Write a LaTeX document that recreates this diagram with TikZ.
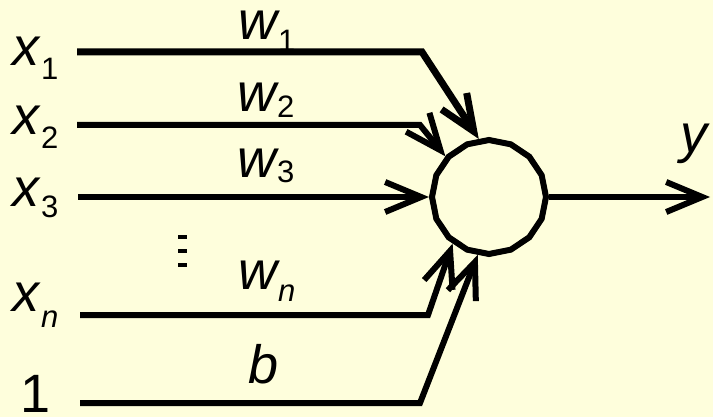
\documentclass[tikz,border=0pt]{standalone}
\usepackage{fontspec}
\setmainfont{Liberation Sans}
\usetikzlibrary{shapes.geometric,arrows.meta}
\definecolor{bg}{RGB}{254,254,220}
\newcommand\mysub[2]{\raisebox{-#1pt}{\fontsize{31}{31}\selectfont #2}}
\begin{document}
\begin{tikzpicture}[x=1pt,y=-1pt,
  lbl/.style={inner sep=0pt,anchor=base west,font=\fontsize{54}{60}\selectfont},
  wire/.style={line width=6pt,line join=miter,line cap=butt},
  arr/.style={wire,-{Straight Barb[length=36pt,width=30pt]}},
  neuron/.style={draw,line width=6pt,regular polygon,regular polygon sides=16,
    shape border rotate=11.25,minimum size=114pt,inner sep=0pt}]
\fill[bg] (0,0) rectangle (713,417);
\useasboundingbox (0,0) rectangle (713,417);
% labels
\node[lbl] (lx1) at (12,66) {\itshape x\hspace{2pt}\mysub{14}{\upshape 1}};
\node[lbl] (lx2) at (12,135) {\itshape x\hspace{2pt}\mysub{14}{\upshape 2}};
\node[lbl] (lx3) at (12,207) {\itshape x\hspace{2pt}\mysub{11}{\upshape 3}};
\node[lbl] (lxn) at (12,312) {\itshape x\hspace{2pt}\mysub{16}{n}};
\node[lbl] (lone) at (20,412) {1};
\node[lbl] (lw1) at (238,40) {\itshape w\hspace{1pt}\mysub{12}{\upshape 1}};
\node[lbl] (lw2) at (237,112) {\itshape w\hspace{1pt}\mysub{6}{\upshape 2}};
\node[lbl] (lw3) at (237,178) {\itshape w\hspace{1pt}\mysub{5}{\upshape 3}};
\node[lbl] (lwn) at (238,290) {\itshape w\hspace{1pt}\mysub{12}{n}};
\node[lbl] (lb) at (248,383) {\itshape b};
\node[lbl] (ly) at (680,153) {\itshape y};
% vertical dots
\foreach \yy [count=\i] in {235,249,263}
  \fill (178,\yy) rectangle (187,\yy+4);
% neuron
\node[neuron] (n) at (489,197) {};
% input wires
\coordinate (s1) at (77,52);   \coordinate (c1) at (422,52);
\coordinate (s2) at (77,125);  \coordinate (c2) at (420,125);
\coordinate (s3) at (78,197);
\coordinate (sn) at (80,315);  \coordinate (cn) at (428,315);
\coordinate (sb) at (80,403);  \coordinate (cb) at (420,403);
\coordinate (out) at (710,197);
\draw[arr,line width=7pt] (s1) -- (c1) -- (n.100);
\draw[arr] (s2) -- (c2) -- (n.137);
\draw[arr] (s3) -- (n.180);
\draw[arr] (sn) -- (cn) -- (n.232);
\draw[arr] (sb) -- (cb) -- (n.259);
\draw[arr] (n.0) -- (out);
\end{tikzpicture}
\end{document}
